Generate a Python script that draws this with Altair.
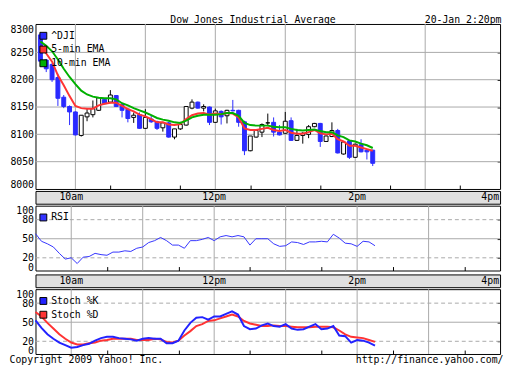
import altair as alt
import pandas as pd

FONT = "DejaVu Sans Mono"

# ---------------- data ----------------
START_HOUR = 9.5          # 9:30am
BAR_MINUTES = 5

OPEN = [8282, 8236, 8228, 8204, 8168, 8151, 8141, 8098, 8132, 8136,
        8144, 8164, 8159, 8171, 8155, 8146, 8131, 8136, 8111, 8128,
        8123, 8112, 8121, 8095, 8110, 8117, 8148, 8159, 8148, 8150,
        8122, 8142, 8134, 8144, 8144, 8123, 8070, 8095, 8104, 8121,
        8122, 8104, 8102, 8125, 8089, 8098, 8100, 8114, 8120, 8087,
        8096, 8107, 8064, 8088, 8058, 8081, 8071, 8071]
HIGH = [8286, 8238, 8230, 8211, 8172, 8153, 8142, 8135, 8147, 8162,
        8167, 8166, 8181, 8172, 8156, 8148, 8140, 8140, 8146, 8134,
        8125, 8123, 8123, 8110, 8123, 8151, 8164, 8160, 8155, 8151,
        8147, 8144, 8145, 8163, 8145, 8125, 8097, 8108, 8120, 8138,
        8131, 8117, 8141, 8131, 8110, 8104, 8117, 8121, 8121, 8098,
        8122, 8110, 8087, 8089, 8083, 8091, 8072, 8072]
LOW = [8232, 8214, 8196, 8152, 8148, 8117, 8098, 8096, 8124, 8131,
       8143, 8155, 8157, 8150, 8131, 8122, 8121, 8110, 8110, 8121,
       8108, 8105, 8094, 8091, 8108, 8116, 8146, 8147, 8142, 8117,
       8121, 8118, 8120, 8142, 8114, 8062, 8069, 8094, 8095, 8117,
       8096, 8098, 8101, 8088, 8088, 8083, 8093, 8113, 8077, 8086,
       8095, 8065, 8063, 8055, 8057, 8067, 8054, 8042]
CLOSE = [8234, 8220, 8200, 8166, 8151, 8141, 8099, 8135, 8139, 8147,
         8167, 8156, 8172, 8151, 8144, 8129, 8135, 8111, 8131, 8123,
         8111, 8121, 8095, 8110, 8118, 8151, 8159, 8148, 8151, 8122,
         8143, 8132, 8144, 8143, 8122, 8070, 8097, 8107, 8118, 8121,
         8104, 8099, 8124, 8089, 8098, 8102, 8114, 8120, 8087, 8097,
         8107, 8066, 8086, 8058, 8082, 8068, 8068, 8047]
EMA5 = [8262, 8248, 8233, 8208, 8190, 8170, 8152, 8148, 8147, 8147,
        8153, 8156, 8158, 8158, 8152, 8146, 8142, 8136, 8133, 8128,
        8122, 8122, 8118, 8117, 8119, 8128, 8135, 8138, 8139, 8136,
        8138, 8137, 8139, 8138, 8131, 8111, 8108, 8108, 8110, 8112,
        8108, 8106, 8108, 8103, 8101, 8101, 8104, 8108, 8102, 8100,
        8101, 8091, 8087, 8079, 8079, 8076, 8073, 8070]
EMA10 = [8270, 8262, 8252, 8237, 8220, 8205, 8192, 8180, 8173, 8169,
         8167, 8166, 8166, 8164, 8157, 8153, 8148, 8144, 8140, 8135,
         8130, 8127, 8125, 8122, 8121, 8125, 8131, 8134, 8136, 8136,
         8136, 8137, 8139, 8139, 8134, 8121, 8117, 8116, 8116, 8116,
         8114, 8113, 8113, 8110, 8108, 8107, 8108, 8109, 8106, 8104,
         8104, 8098, 8095, 8089, 8087, 8083, 8080, 8075]
RSI = [58, 46, 42, 37, 27, 18, 20, 11, 21, 22,
       27, 25, 24, 29, 29, 31, 30, 35, 37, 44,
       47, 52, 47, 40, 40, 35, 47, 47, 49, 52,
       47, 53, 55, 53, 55, 53, 40, 50, 50, 50,
       42, 38, 39, 45, 44, 41, 45, 45, 46, 45,
       57, 51, 43, 42, 38, 46, 45, 39]
STOCH_K = [53, 41, 31, 24, 18, 14, 10, 11, 14, 16,
           21, 25, 27, 27, 25, 24, 23, 21, 24, 25,
           24, 24, 17, 17, 21, 37, 49, 57, 58, 54,
           59, 59, 63, 67, 62, 44, 39, 40, 45, 48,
           44, 43, 47, 40, 38, 39, 43, 47, 39, 40,
           44, 29, 28, 18, 22, 21, 18, 13]
STOCH_D = [66, 59, 49, 40, 31, 24, 18, 15, 15, 17,
           18, 21, 22, 24, 24, 24, 24, 22, 22, 22,
           24, 23, 19, 18, 21, 29, 36, 44, 47, 52,
           53, 56, 59, 62, 59, 52, 48, 46, 44, 44,
           45, 44, 44, 43, 42, 42, 42, 43, 43, 43,
           42, 37, 31, 27, 26, 25, 22, 19]

PRICE_TICKS = [8000, 8050, 8100, 8150, 8200, 8250, 8300]
OSC_TICKS = [0, 20, 50, 80, 100]
OSC_SOLID = [50]
OSC_DASHED = [20, 80]
HOUR_GRID = [10, 11, 12, 13, 14, 15]
HALF_HOUR_TICKS = [10.5, 11.5, 12.5, 13.5, 14.5, 15.5]
TIME_LABEL_HOURS = [10, 12, 14, 16]
TIME_LABELS = ["10am", "12pm", "2pm", "4pm"]

MAIN_SERIES = ["^DJI", "5-min EMA", "10-min EMA"]
MAIN_COLORS = ["#2a2aff", "#ff3333", "#00b000"]
RSI_SERIES = ["RSI"]
RSI_COLORS = ["#3333ff"]
STOCH_SERIES = ["Stoch %K", "Stoch %D"]
STOCH_COLORS = ["#2222ff", "#ff3333"]

TITLE = "Dow Jones Industrial Average"
STAMP = "20-Jan 2:20pm"
COPYRIGHT = "Copyright 2009 Yahoo! Inc."
URL = "http://finance.yahoo.com/"

# ---------------- styling ----------------
W = 473
H_MAIN = 168
H_STRIP = 13
H_OSC = 66
GRID = "#a8a8a8"
STRIP_FILL = "#e0e0e0"
CANDLE_BLUE = MAIN_COLORS[0]

n = len(CLOSE)
HOURS = [START_HOUR + BAR_MINUTES * k / 60 for k in range(n)]

candles = pd.DataFrame({"h": HOURS, "open": OPEN, "high": HIGH,
                        "low": LOW, "close": CLOSE})
candles["bfill"] = ["white" if c > o else (CANDLE_BLUE if c < o else "black")
                    for o, c in zip(OPEN, CLOSE)]
candles["bstroke"] = [CANDLE_BLUE if c < o else "black" for o, c in zip(OPEN, CLOSE)]


def long_df(series_values, names, colors):
    rows = []
    for vals, nm, col in zip(series_values, names, colors):
        for h, v in zip(HOURS, vals):
            rows.append({"h": h, "v": v, "series": nm, "col": col})
    return pd.DataFrame(rows)


ema_df = long_df([EMA5, EMA10], MAIN_SERIES[1:], MAIN_COLORS[1:])
rsi_df = long_df([RSI], RSI_SERIES, RSI_COLORS)
stoch_df = long_df([STOCH_D, STOCH_K], STOCH_SERIES[::-1], STOCH_COLORS[::-1])


def xscale():
    return alt.Scale(domain=[START_HOUR, 16], nice=False, zero=False)


def tick_axis():
    return alt.Axis(orient="bottom", values=HALF_HOUR_TICKS, offset=-4, tickSize=4,
                    tickColor="black", tickWidth=1, labels=False, domain=False,
                    grid=False, title=None)


def left_axis(values, title=None, tx=0, ty=0, talign="center", osc=False):
    kw = dict(orient="left", values=values, format="d", ticks=False, tickSize=0,
              labelPadding=2, labelOverlap=False, domain=False, grid=False,
              labelFont=FONT, labelFontSize=10, labelColor="black")
    if osc:
        kw.update(labelFlush=False,
                  labelOffset={"condition": [{"test": "datum.value === 0", "value": -3},
                                             {"test": "datum.value === 100", "value": 4}],
                               "value": 0})
    else:
        kw.update(labelFlush=3)
    if title:
        kw.update(title=title, titleAngle=0, titleAlign=talign, titleBaseline="alphabetic",
                  titleX=tx, titleY=ty, titleFont=FONT, titleFontSize=10,
                  titleFontWeight="normal", titleColor="black")
    else:
        kw["title"] = None
    return alt.Axis(**kw)


def right_axis(values, title=None, tx=0, ty=0):
    kw = dict(orient="right", values=values, offset=-3, tickSize=3, tickColor="black",
              tickWidth=1, labels=False, domain=False, grid=False)
    if title:
        kw.update(title=title, titleAngle=0, titleAlign="right", titleBaseline="alphabetic",
                  titleX=tx, titleY=ty, titleFont=FONT, titleFontSize=10,
                  titleFontWeight="normal", titleColor="black")
    else:
        kw["title"] = None
    return alt.Axis(**kw)


def legend_layer(names, colors, lx, ly):
    """Filled-square legend key for the panel (the swatch mark itself is transparent)."""
    lg = alt.Legend(title=None, orient="none", legendX=lx, legendY=ly,
                    symbolType="square", symbolSize=49, symbolStrokeWidth=1,
                    symbolStrokeColor="black", symbolOpacity=1,
                    labelFont=FONT, labelFontSize=10, labelColor="black",
                    labelOffset=3, rowPadding=2, padding=0)
    return alt.Chart(pd.DataFrame({"series": names})).mark_square(
        filled=True, opacity=0).encode(
        color=alt.Color("series:N", scale=alt.Scale(domain=names, range=colors), legend=lg))


def vgrid():
    return alt.Chart(pd.DataFrame({"h": HOUR_GRID})).mark_rule(
        color=GRID, strokeWidth=1).encode(
        x=alt.X("h:Q", scale=xscale(), axis=tick_axis()))


def panel_view():
    return alt.ViewBackground(fill="white", stroke="black", strokeWidth=1)


# ---------------- main price panel ----------------
ys_main = alt.Scale(domain=[8000, 8302], nice=False, zero=False)
main = alt.layer(
    vgrid(),
    alt.Chart(pd.DataFrame({"p": PRICE_TICKS[1:-1]})).mark_rule(color=GRID, strokeWidth=1).encode(
        y=alt.Y("p:Q", scale=ys_main, axis=right_axis(PRICE_TICKS[1:-1], STAMP, tx=4, ty=-2))),
    alt.Chart(candles).mark_rule(strokeWidth=1).encode(
        x=alt.X("h:Q", scale=xscale(), axis=None),
        y=alt.Y("low:Q", scale=ys_main,
                axis=left_axis(PRICE_TICKS, TITLE, tx=221, ty=-2)),
        y2="high:Q",
        stroke=alt.Stroke("bstroke:N", scale=None)),
    alt.Chart(candles).mark_bar(size=4, strokeWidth=1).encode(
        x=alt.X("h:Q", scale=xscale(), axis=None),
        y=alt.Y("open:Q", scale=ys_main, axis=None),
        y2="close:Q",
        fill=alt.Fill("bfill:N", scale=None),
        stroke=alt.Stroke("bstroke:N", scale=None)),
    alt.Chart(ema_df).mark_line(strokeWidth=2).encode(
        x=alt.X("h:Q", scale=xscale(), axis=None),
        y=alt.Y("v:Q", scale=ys_main, axis=None),
        stroke=alt.Stroke("col:N", scale=None)),
    legend_layer(MAIN_SERIES, MAIN_COLORS, 3, 7),
).resolve_axis(x="independent", y="independent").properties(
    width=W, height=H_MAIN, view=panel_view())


# ---------------- time label strips ----------------
def strip():
    base = alt.Chart(pd.DataFrame({"h": TIME_LABEL_HOURS, "label": TIME_LABELS})).encode(
        x=alt.X("h:Q", scale=xscale(), axis=None), text="label:N")
    return alt.layer(
        base.transform_filter(alt.datum.h < 16).mark_text(
            align="center", baseline="middle", font=FONT, fontSize=10, color="black"),
        base.transform_filter(alt.datum.h >= 16).mark_text(
            align="right", baseline="middle", font=FONT, fontSize=10, color="black", dx=-1),
    ).properties(width=W, height=H_STRIP,
                 view=alt.ViewBackground(fill=STRIP_FILL, stroke="black", strokeWidth=1))


# ---------------- oscillator panels ----------------
def osc_panel(df, names, colors, stroke_w, left_title=None, right_title=None):
    ys = alt.Scale(domain=[0, 102], nice=False, zero=False)
    if left_title:
        laxis = left_axis(OSC_TICKS, left_title, tx=-27, ty=H_OSC + 9, talign="left", osc=True)
    else:
        laxis = left_axis(OSC_TICKS, osc=True)
    if right_title:
        raxis = right_axis([20, 50, 80], right_title, tx=6, ty=H_OSC + 9)
    else:
        raxis = right_axis([20, 50, 80])
    return alt.layer(
        vgrid(),
        alt.Chart(pd.DataFrame({"lv": OSC_SOLID})).mark_rule(color=GRID, strokeWidth=1).encode(
            y=alt.Y("lv:Q", scale=ys, axis=raxis)),
        alt.Chart(pd.DataFrame({"lv": OSC_DASHED})).mark_rule(
            color=GRID, strokeWidth=1, strokeDash=[4, 3]).encode(
            y=alt.Y("lv:Q", scale=ys, axis=None)),
        alt.Chart(df).mark_line(strokeWidth=stroke_w).encode(
            x=alt.X("h:Q", scale=xscale(), axis=None),
            y=alt.Y("v:Q", scale=ys, axis=laxis),
            stroke=alt.Stroke("col:N", scale=None)),
        legend_layer(names, colors, 3, 7),
    ).resolve_axis(x="independent", y="independent").properties(
        width=W, height=H_OSC, view=panel_view())


rsi = osc_panel(rsi_df, RSI_SERIES, RSI_COLORS, 1)
stoch = osc_panel(stoch_df, STOCH_SERIES, STOCH_COLORS, 2, COPYRIGHT, URL)

chart = alt.vconcat(main, strip(), rsi, strip(), stoch, spacing=0).resolve_scale(
    color="independent"
).properties(
    padding={"top": 2, "left": 0, "right": 0, "bottom": 0}, background="white"
).configure_axis(labelFont=FONT, titleFont=FONT).configure_legend(labelFont=FONT)

chart.save("out.html", embed_options={"renderer": "svg", "actions": False})
